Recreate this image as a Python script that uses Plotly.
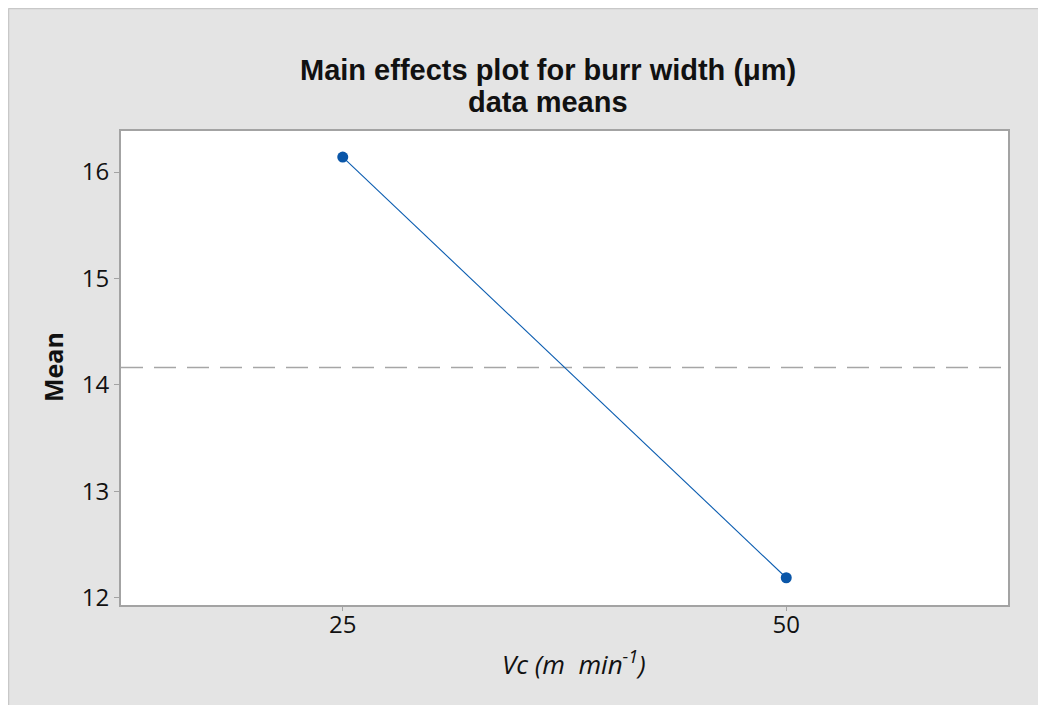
import plotly.graph_objects as go

# Data
levels = ["25", "50"]
means = [16.14, 12.19]
grand_mean = 14.165
y_ticks = [12, 13, 14, 15, 16]

# Figure is offset by the page's 8px body margin
W, H = 1038, 697
L, R, T, B = 113, 1000, 123, 597
pw, ph = R - L, B - T

def px_x(x):
    return (x - L) / pw

def px_y(y):
    return (B - y) / ph

fig = go.Figure()

x_idx = list(range(len(levels)))

# Grand mean reference line
fig.add_trace(go.Scatter(
    x=[-0.5, len(levels) - 0.5], y=[grand_mean, grand_mean],
    mode="lines",
    line=dict(color="#a6a6a6", width=1.5, dash="22px,11px"),
    hoverinfo="skip", showlegend=False,
))

fig.add_trace(go.Scatter(
    x=x_idx, y=means,
    mode="lines+markers",
    line=dict(color="#0a5cb0", width=1.1),
    marker=dict(color="#0a56a8", size=11),
    showlegend=False,
))

tickfont = dict(family="Open Sans, Noto Sans, sans-serif", size=24, color="#111111")

fig.update_layout(
    width=W, height=H,
    margin=dict(l=L, r=W - R, t=T, b=H - B, autoexpand=False),
    paper_bgcolor="#e4e4e4",
    plot_bgcolor="white",
    font=dict(family="Open Sans, Noto Sans, sans-serif", color="#111111"),
    shapes=[
        dict(type="line", xref="paper", yref="paper",
             x0=px_x(0.5), x1=px_x(0.5), y0=px_y(H), y1=px_y(0.5),
             line=dict(color="#c8c8c8", width=1.5), layer="below"),
        dict(type="line", xref="paper", yref="paper",
             x0=px_x(0.5), x1=px_x(W), y0=px_y(0.5), y1=px_y(0.5),
             line=dict(color="#c8c8c8", width=1.5), layer="below"),
    ],
    xaxis=dict(
        range=[-0.5, len(levels) - 0.5],
        tickmode="array", tickvals=x_idx, ticktext=levels,
        showgrid=False, zeroline=False,
        showline=True, mirror=True, linecolor="#a3a3a3", linewidth=2,
        ticks="outside", ticklen=4, tickcolor="#a3a3a3", tickwidth=1,
        ticklabelstandoff=-7,
        tickfont=tickfont,
    ),
    yaxis=dict(
        range=[11.934, 16.385],
        tickmode="array", tickvals=y_ticks,
        showgrid=False, zeroline=False,
        showline=True, mirror=True, linecolor="#a3a3a3", linewidth=2,
        ticks="outside", ticklen=5, tickcolor="#a3a3a3", tickwidth=1,
        tickfont=tickfont,
    ),
    annotations=[
        dict(text="<b>Main effects plot for burr width (μm)</b>",
             xref="paper", yref="paper", x=px_x(540), y=px_y(62),
             xanchor="center", yanchor="middle", showarrow=False,
             font=dict(family="Liberation Sans, Arial, sans-serif", size=29, color="#111111")),
        dict(text="<b>data means</b>",
             xref="paper", yref="paper", x=px_x(540), y=px_y(94),
             xanchor="center", yanchor="middle", showarrow=False,
             font=dict(family="Liberation Sans, Arial, sans-serif", size=29, color="#111111")),
        dict(text="<b>Mean</b>", xref="paper", yref="paper",
             x=px_x(44.5), y=px_y(359.5), xanchor="center", yanchor="middle",
             textangle=-90, showarrow=False,
             font=dict(size=25, color="#111111")),
        dict(text="<i>Vc (m  min<sup>-1</sup>)</i>", xref="paper", yref="paper",
             x=px_x(566), y=px_y(655), xanchor="center", yanchor="middle",
             showarrow=False,
             font=dict(size=26, color="#111111")),
    ],
)

fig.write_html("out.html")
